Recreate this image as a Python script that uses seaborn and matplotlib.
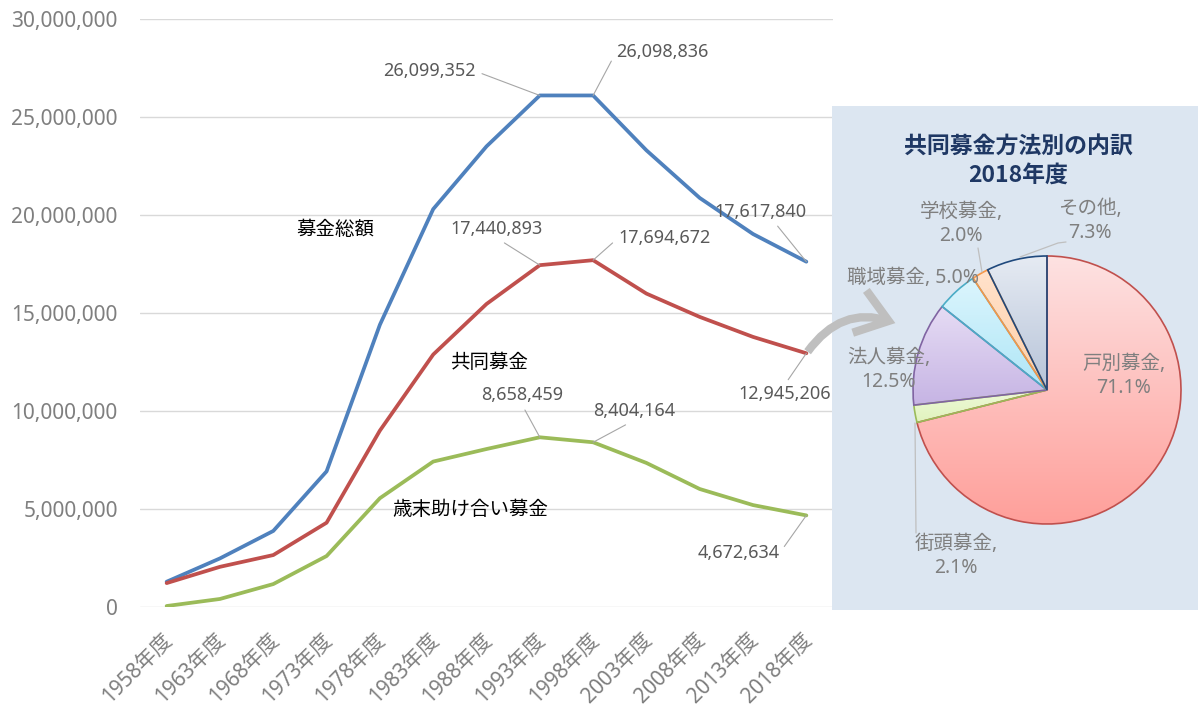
import numpy as np
import pandas as pd
import matplotlib
matplotlib.use("Agg")
import matplotlib.pyplot as plt
import matplotlib.transforms as mtransforms
import seaborn as sns
from matplotlib.patches import FancyArrowPatch
from matplotlib.colors import LinearSegmentedColormap
from matplotlib.ticker import FuncFormatter, MultipleLocator

# ---- data -------------------------------------------------------------
fiscal_years = ["1958年度", "1963年度", "1968年度", "1973年度", "1978年度", "1983年度",
                "1988年度", "1993年度", "1998年度", "2003年度", "2008年度", "2013年度",
                "2018年度"]
total_amount = [1290000, 2480000, 3880000, 6920000, 14400000, 20300000, 23500000,
                26099352, 26098836, 23300000, 20870000, 19030000, 17617840]
community_chest = [1220000, 2050000, 2650000, 4300000, 9000000, 12880000, 15460000,
                   17440893, 17694672, 15990000, 14800000, 13780000, 12945206]
year_end_aid = [50000, 410000, 1170000, 2600000, 5550000, 7420000, 8060000,
                8658459, 8404164, 7350000, 6020000, 5200000, 4672634]
series_names = ["募金総額", "共同募金", "歳末助け合い募金"]

method_labels = ["戸別募金", "街頭募金", "法人募金", "職域募金", "学校募金", "その他"]
method_shares = [71.1, 2.1, 12.5, 5.0, 2.0, 7.3]

# ---- style ------------------------------------------------------------
sns.set_theme(style="white")
plt.rcParams["font.family"] = ["Noto Sans", "Noto Sans CJK JP", "DejaVu Sans"]

W, H = 1198, 708
fig = plt.figure(figsize=(W / 100, H / 100), dpi=100)


def px_box(left, top, right, bottom):
    return [left / W, 1 - bottom / H, (right - left) / W, (bottom - top) / H]


# ---- line chart -------------------------------------------------------
ax = fig.add_axes(px_box(140, 19, 833, 607))
n = len(fiscal_years)
pos = np.arange(n)
df = pd.DataFrame({
    "pos": np.tile(pos, 3),
    "value": total_amount + community_chest + year_end_aid,
    "series": np.repeat(series_names, n),
})
palette = {"募金総額": "#4f81bd", "共同募金": "#c0504d", "歳末助け合い募金": "#9bbb59"}
sns.lineplot(data=df, x="pos", y="value", hue="series", palette=palette,
             linewidth=2.7, legend=False, ax=ax, estimator=None, sort=False)
for line in ax.lines:
    line.set_solid_joinstyle("round")
    line.set_solid_capstyle("round")

ax.set_xlim(-0.5, n - 0.5)
ax.set_ylim(0, 30_000_000)
ax.yaxis.set_major_locator(MultipleLocator(5_000_000))
ax.yaxis.set_major_formatter(FuncFormatter(lambda v, _: f"{int(v):,}"))
ax.set_xticks(pos)
ax.set_xticklabels(fiscal_years, rotation=45, ha="right", va="top",
                   rotation_mode="anchor")
ax.tick_params(axis="y", length=0, pad=16, labelsize=15, labelcolor="#7f7f7f")
ax.tick_params(axis="x", length=0, pad=16, labelsize=15, labelcolor="#7f7f7f")
shift = mtransforms.ScaledTranslation(-5 / 100, 0, fig.dpi_scale_trans)
for lab in ax.get_xticklabels():
    lab.set_transform(lab.get_transform() + shift)
ax.grid(axis="y", color="#d9d9d9", linewidth=1)
ax.set_axisbelow(True)
for s in ax.spines.values():
    s.set_visible(False)
ax.set_xlabel("")
ax.set_ylabel("")

# series names written beside the lines
name_style = dict(fontsize=14, color="black", ha="center", va="center")
ax.text(3.17, 19_230_000, series_names[0], **name_style)
ax.text(6.04, 12_450_000, series_names[1], **name_style)
ax.text(5.7, 4_950_000, series_names[2], **name_style)

# value call-outs with leader lines (offsets in pixels, y up)
callouts = [
    (total_amount, 7, (-110, 24), (1, 0.5)),
    (total_amount, 8, (69, 43), (0, 0.5)),
    (total_amount, 12, (-46, 50), (0.64, 0)),
    (community_chest, 7, (-43, 36), (0.5, 0)),
    (community_chest, 8, (71, 22), (0, 0.5)),
    (community_chest, 12, (-22, -41), (0.5, 1)),
    (year_end_aid, 7, (-18, 42), (0.5, 0)),
    (year_end_aid, 8, (41, 31), (0.5, 0)),
    (year_end_aid, 12, (-68, -38), (1, 0.5)),
]
for values, i, (dx, dy), rel in callouts:
    ax.annotate(f"{values[i]:,}", xy=(i, values[i]),
                xytext=(dx * 0.72, dy * 0.72), textcoords="offset points",
                ha="center", va="center", fontsize=13, color="#595959",
                arrowprops=dict(arrowstyle="-", color="#a6a6a6", lw=0.8,
                                relpos=rel, shrinkA=2, shrinkB=0))

# ---- pie panel --------------------------------------------------------
pax = fig.add_axes(px_box(832, 106, 1198, 610))
pax.set_facecolor("#dce6f1")

face_grad = [("#fde2e2", "#ff9f9a"), ("#eef9d8", "#e0f3bd"), ("#e6dcf4", "#c6b4e4"),
             ("#dcf5fd", "#aee6f7"), ("#ffe2cc", "#ffcfa6"), ("#e6ebf3", "#b6c3d8")]
edge_cols = ["#c0504d", "#9bbb59", "#8064a2", "#4bacc6", "#f79646", "#1f497d"]

wedges, _ = pax.pie(method_shares, startangle=90, counterclock=False, radius=1,
                    center=(0, 0), frame=True,
                    wedgeprops=dict(linewidth=1.2, facecolor="none"))
grad = np.linspace(0, 1, 256)[:, None]
for w, (top, bottom), ec in zip(wedges, face_grad, edge_cols):
    w.set_edgecolor(ec)
    w.set_zorder(3)
    (x0, y0), (x1, y1) = w.get_path().get_extents().get_points()
    cmap = LinearSegmentedColormap.from_list("g", [bottom, top])
    im = pax.imshow(grad, cmap=cmap, extent=(x0, x1, y0, y1), origin="lower",
                    aspect="auto", interpolation="bicubic", zorder=2)
    im.set_clip_path(w)

S = 134.0  # pixels per unit radius
cx, cy = 1047, 390


def to_pie(px, py):
    return ((px - cx) / S, (cy - py) / S)


pax.set_xlim((832 - cx) / S, (1198 - cx) / S)
pax.set_ylim((cy - 610) / S, (cy - 106) / S)
pax.set_aspect("auto")
pax.set_xticks([])
pax.set_yticks([])
for s in pax.spines.values():
    s.set_visible(False)

title_style = dict(fontsize=16.5, fontweight="bold", color="#1f3864",
                   ha="center", va="center",
                   family=["Noto Sans CJK JP", "DejaVu Sans"])
pax.text(*to_pie(1018, 147), "共同募金方法別の内訳", **title_style)
pax.text(*to_pie(1018, 175), "2018年度", **title_style)

lab_style = dict(fontsize=14, color="#7f7f7f", ha="center", va="center",
                 linespacing=1.25, zorder=5)
label_spots = [(1124, 376), (956, 556), (889, 370), (913, 278), (961, 224), (1090, 221)]
for name, share, (lx, ly) in zip(method_labels, method_shares, label_spots):
    text = f"{name}, {share:.1f}%" if name == "職域募金" else f"{name},\n{share:.1f}%"
    pax.text(*to_pie(lx, ly), text, **lab_style)

leader = dict(color="#bfbfbf", lw=0.9, zorder=4)
for pts in [[(915, 423), (916, 533)],
            [(978, 248), (982, 272)],
            [(1066, 242), (1058, 243), (1020, 257)]]:
    xs, ys = zip(*[to_pie(*p) for p in pts])
    pax.plot(xs, ys, **leader)

# ---- connecting arrow -------------------------------------------------
arrow = FancyArrowPatch((806 / W, 1 - 354 / H), (898 / W, 1 - 324 / H),
                        transform=fig.transFigure,
                        connectionstyle="arc3,rad=-0.38",
                        arrowstyle="->,head_length=1.1,head_width=0.8",
                        mutation_scale=20, lw=6, color="#bfbfbf",
                        capstyle="butt", joinstyle="miter", zorder=10)
fig.add_artist(arrow)

fig.savefig("out.png", dpi=100)
